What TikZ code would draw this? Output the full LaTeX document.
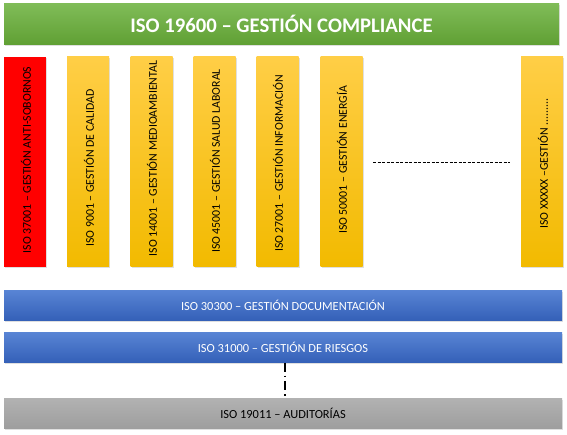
\documentclass[tikz,border=0pt]{standalone}
\usepackage{fontspec}
\setmainfont{Carlito}
\usetikzlibrary{shadows}
\definecolor{grtop}{RGB}{128,188,88}
\definecolor{grbot}{RGB}{96,160,52}
\definecolor{yltop}{RGB}{255,206,70}
\definecolor{ylbot}{RGB}{242,186,0}
\definecolor{bltop}{RGB}{88,132,212}
\definecolor{blbot}{RGB}{52,96,184}
\definecolor{gytop}{RGB}{178,178,178}
\definecolor{gybot}{RGB}{158,158,158}
\definecolor{rd}{RGB}{255,0,0}
\tikzset{
  barbase/.style={inner sep=0pt, drop shadow={shadow xshift=1pt,shadow yshift=-1.5pt,opacity=0.25}},
  titlebar/.style={barbase, top color=grtop, bottom color=grbot, minimum width=555pt, minimum height=41pt, text=white, font=\bfseries\fontsize{20.7}{24}\selectfont},
  vbar/.style={barbase, minimum width=42pt, minimum height=210pt},
  ybar/.style={vbar, top color=yltop, bottom color=ylbot},
  rbar/.style={vbar, fill=rd},
  vtext/.style={rotate=90, inner sep=0pt, font=\fontsize{11.8}{14}\selectfont, text=black},
  hbar/.style={barbase, minimum width=558pt, minimum height=30pt, font=\fontsize{12.4}{14}\selectfont},
  bbar/.style={hbar, top color=bltop, bottom color=blbot, text=white},
  gbar/.style={hbar, top color=gytop, bottom color=gybot, text=black},
  dots/.style={dashed, dash pattern=on 3pt off 1.5pt, line width=0.7pt, black}
}
\begin{document}
\begin{tikzpicture}[x=1pt,y=-1pt]
\useasboundingbox (0,0) rectangle (567,435);
\node[titlebar] (title) at (281.5,24) {ISO 19600 – GESTIÓN COMPLIANCE};
\node[rbar] (b1) at (25,162) {};
\node[ybar] (b2) at (88,162) {};
\node[ybar] (b3) at (151.5,162) {};
\node[ybar] (b4) at (214.5,162) {};
\node[ybar] (b5) at (277.5,162) {};
\node[ybar] (b6) at (341.5,162) {};
\node[ybar] (b7) at (542,162) {};
\node[vtext] (t1) at (26,160) {ISO 37001 – GESTIÓN ANTI-SOBORNOS};
\node[vtext] (t2) at (89,168) {ISO 9001 – GESTIÓN DE CALIDAD};
\node[vtext] (t3) at (152,158.5) {ISO 14001 – GESTIÓN MEDIOAMBIENTAL};
\node[vtext] (t4) at (215,161) {ISO 45001 – GESTIÓN SALUD LABORAL};
\node[vtext] (t5) at (278,163.5) {ISO 27001 – GESTIÓN INFORMACIÓN};
\node[vtext] (t6) at (342,160) {ISO 50001 – GESTIÓN ENERGÍA};
\node[vtext] (t7) at (543,163.5) {ISO XXXXX –GESTIÓN .........};
\coordinate (d1) at (373,162);
\coordinate (d2) at (510,162);
\draw[dots] (d1) -- (d2);
\node[bbar] (doc) at (283,305.5) {ISO 30300 – GESTIÓN DOCUMENTACIÓN};
\node[bbar] (risk) at (283,347.5) {ISO 31000 – GESTIÓN DE RIESGOS};
\node[gbar] (aud) at (283,413) {ISO 19011 – AUDITORÍAS};
\draw[dashed, dash pattern=on 9pt off 4pt on 1.5pt off 4pt, line width=1.3pt] (risk.south -| 285,0) -- (aud.north -| 285,0);
\end{tikzpicture}
\end{document}
